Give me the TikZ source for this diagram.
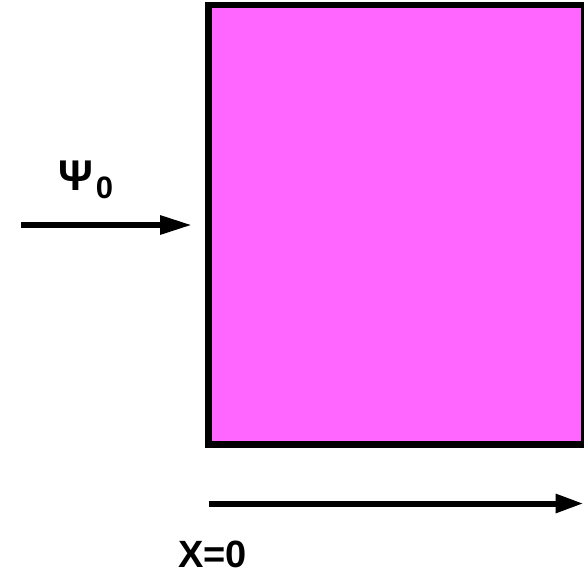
\documentclass[tikz,border=0pt]{standalone}
\usepackage{fontspec}
\setmainfont{Liberation Sans}
\usetikzlibrary{arrows.meta}
\definecolor{slab}{HTML}{FF66FF}
\tikzset{
  slabbox/.style={draw=black, line width=6.5pt, fill=slab},
  bigarrow/.style={line width=6pt, -{Triangle[length=#1, width=18pt]}},
  lbl/.style={inner sep=0pt, anchor=base west, font=\bfseries\fontsize{38}{40}\selectfont}
}
\begin{document}
\begin{tikzpicture}[x=1pt,y=1pt]
\useasboundingbox (0,0) rectangle (584,-571);
\path[slabbox] (208.5,-5) rectangle (584.5,-444.5);
\coordinate (a1) at (21,-225);
\coordinate (a2) at (192,-225);
\coordinate (b1) at (208.5,-503.5);
\coordinate (b2) at (583.5,-503.5);
\draw[bigarrow=32pt] (a1) -- (a2);
\draw[bigarrow=28pt] (b1) -- (b2);
\node[lbl] (psi) at (58,-190) {{\fontsize{43}{44}\selectfont Ψ}\kern3pt\raisebox{-8pt}{\fontsize{31}{31}\selectfont 0}};
\node[lbl] (x0) at (178,-567) {X=0};
\end{tikzpicture}
\end{document}
